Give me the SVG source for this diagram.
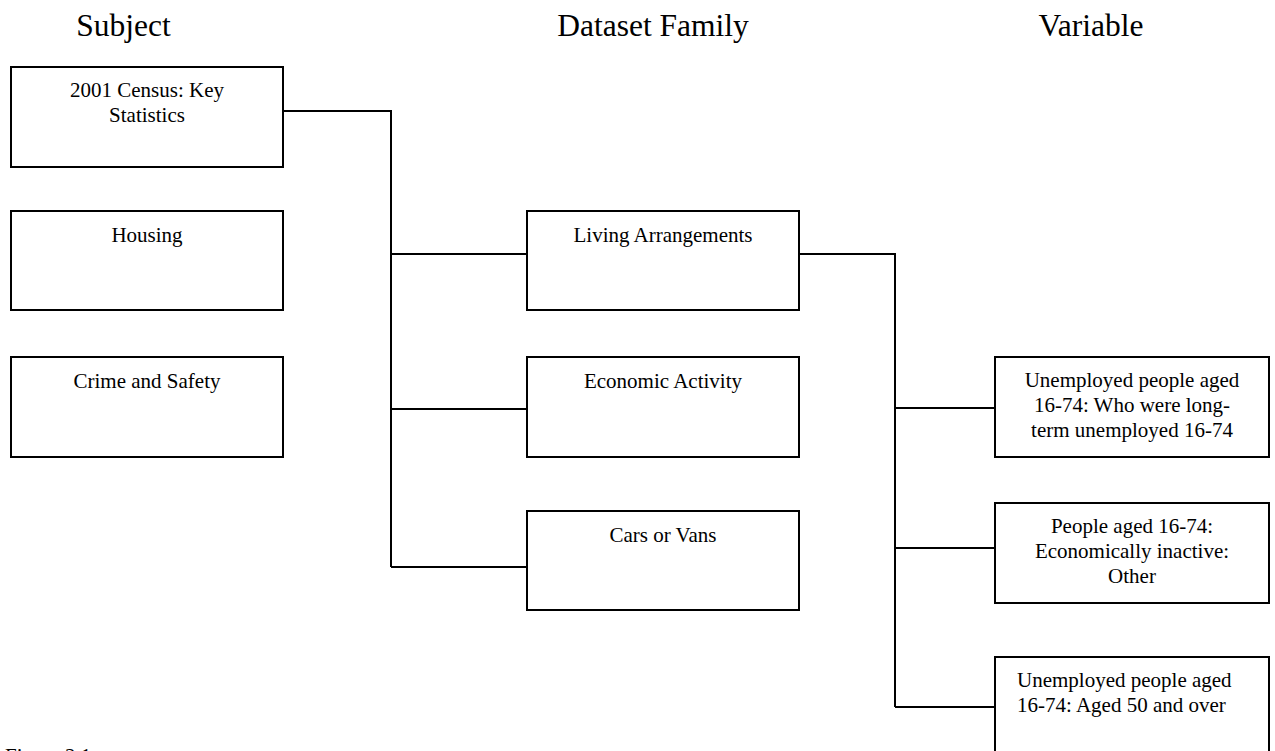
<svg xmlns="http://www.w3.org/2000/svg" width="1275" height="751" viewBox="0 0 1275 751">
<style>
.box{fill:#fff;stroke:#000;stroke-width:2}
.t{font-family:"Liberation Serif","Times New Roman",serif;font-size:21px;fill:#000;text-anchor:middle}
.l{text-anchor:start}
.h{font-family:"Liberation Serif","Times New Roman",serif;font-size:31.5px;fill:#000;text-anchor:middle}
.c{fill:none;stroke:#000;stroke-width:2}
</style>
<rect width="1275" height="751" fill="#fff"/>
<g id="titles">
<text class="h" x="123.5" y="36">Subject</text>
<text class="h" x="653" y="36">Dataset Family</text>
<text class="h" x="1091" y="36">Variable</text>
</g>
<g id="connectors">
<path class="c" d="M283 111 H391 V567 M391 254 H527 M391 409 H527 M391 567 H527"/>
<path class="c" d="M799 254 H895 V707 M895 408 H995 M895 548 H995 M895 707 H995"/>
</g>
<g id="n-census">
<rect class="box" x="11" y="67" width="272" height="100"/>
<text class="t" x="147" y="97">2001 Census: Key</text>
<text class="t" x="147" y="122">Statistics</text>
</g>
<g id="n-housing">
<rect class="box" x="11" y="211" width="272" height="99"/>
<text class="t" x="147" y="242">Housing</text>
</g>
<g id="n-crime">
<rect class="box" x="11" y="357" width="272" height="100"/>
<text class="t" x="147" y="388">Crime and Safety</text>
</g>
<g id="n-living">
<rect class="box" x="527" y="211" width="272" height="99"/>
<text class="t" x="663" y="242">Living Arrangements</text>
</g>
<g id="n-economic">
<rect class="box" x="527" y="357" width="272" height="100"/>
<text class="t" x="663" y="388">Economic Activity</text>
</g>
<g id="n-cars">
<rect class="box" x="527" y="511" width="272" height="99"/>
<text class="t" x="663" y="542">Cars or Vans</text>
</g>
<g id="n-var1">
<rect class="box" x="995" y="357" width="274" height="100"/>
<text class="t" x="1132" y="387">Unemployed people aged</text>
<text class="t" x="1132" y="412">16-74: Who were long-</text>
<text class="t" x="1132" y="437">term unemployed 16-74</text>
</g>
<g id="n-var2">
<rect class="box" x="995" y="503" width="274" height="100"/>
<text class="t" x="1132" y="533">People aged 16-74:</text>
<text class="t" x="1132" y="558">Economically inactive:</text>
<text class="t" x="1132" y="583">Other</text>
</g>
<g id="n-var3">
<rect class="box" x="995" y="657" width="274" height="110"/>
<text class="t l" x="1017" y="687">Unemployed people aged</text>
<text class="t l" x="1017" y="712">16-74: Aged 50 and over</text>
</g>
<g id="caption">
<text class="t l" x="5" y="763">Figure 2.1</text>
</g>
</svg>
